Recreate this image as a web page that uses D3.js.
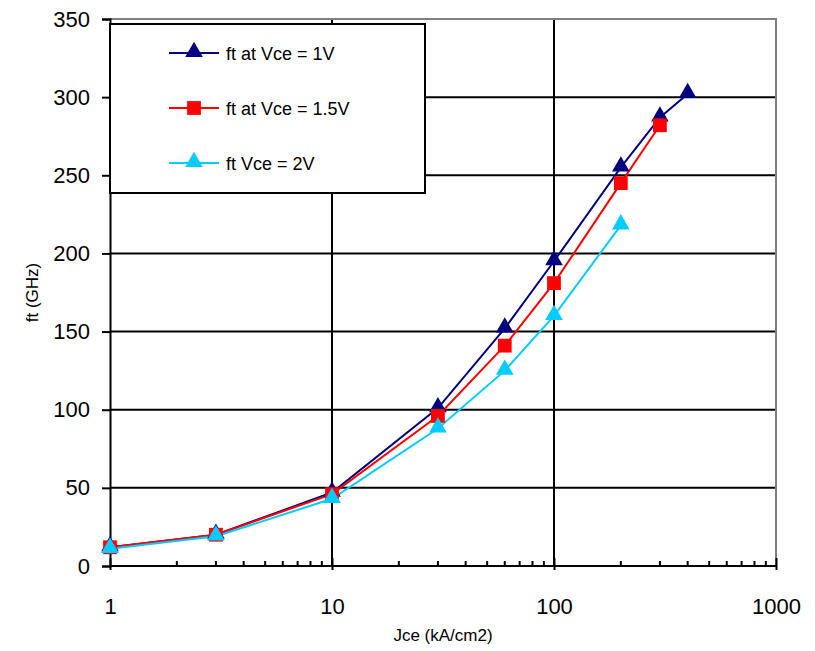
<!DOCTYPE html>
<meta charset="utf-8" />
<body style="margin:0;background:#fff">
  <script src="https://d3js.org/d3.v7.min.js"></script>
  <script>
    // data
    const jce = [1, 3, 10, 30, 60, 100, 200, 300, 400];
    const ftVce1 = [12, 20, 47, 101, 152, 195, 255, 287, 302];
    const ftVce15 = [12, 20, 46, 96, 141, 181, 245, 282];
    const ftVce2 = [11, 19, 43, 88, 125, 160, 218];
    const seriesNames = ["ft at Vce = 1V", "ft at Vce = 1.5V", "ft Vce = 2V"];
    const yTicks = [0, 50, 100, 150, 200, 250, 300, 350];
    const xTicks = [1, 10, 100, 1000];

    const series = [
      { name: seriesNames[0], values: ftVce1, color: "#000080", shape: "tri" },
      { name: seriesNames[1], values: ftVce15, color: "#ff0000", shape: "sq" },
      { name: seriesNames[2], values: ftVce2, color: "#00ccff", shape: "tri" }
    ];

    const margin = { top: 19, right: 39, bottom: 85, left: 110 },
      width = 815 - margin.left - margin.right,
      height = 651 - margin.top - margin.bottom;

    const svg = d3.select("body").append("svg")
      .attr("width", 815).attr("height", 651)
      .style("font-family", "Arial, 'Liberation Sans', sans-serif");

    const g = svg.append("g")
      .attr("transform", "translate(" + margin.left + "," + margin.top + ")");

    const x = d3.scaleLog().domain([1, 1000]).range([0, width]);
    const y = d3.scaleLinear().domain([0, 350]).range([height, 0]);

    // gridlines
    g.append("g").selectAll("line").data(yTicks.slice(1, -1)).join("line")
      .attr("x1", 0).attr("x2", width)
      .attr("y1", d => y(d)).attr("y2", d => y(d))
      .attr("stroke", "#000").attr("stroke-width", 2);
    g.append("g").selectAll("line").data(xTicks.slice(1, -1)).join("line")
      .attr("y1", 0).attr("y2", height)
      .attr("x1", d => x(d)).attr("x2", d => x(d))
      .attr("stroke", "#000").attr("stroke-width", 2);

    // plot frame top / right (grey)
    g.append("path")
      .attr("d", "M0," + y(350) + "H" + x(1000) + "V" + y(0))
      .attr("fill", "none").attr("stroke", "#808080").attr("stroke-width", 2);

    // y axis
    const yAxis = g.append("g")
      .call(d3.axisLeft(y).tickValues(yTicks).tickSize(8).tickPadding(12).tickFormat(d3.format("d")));
    yAxis.select(".domain").attr("stroke-width", 2);
    yAxis.selectAll(".tick line").attr("stroke-width", 2);
    yAxis.selectAll("text").attr("font-size", 22).attr("font-family", null).attr("fill", "#000");

    // x axis: minor ticks pointing up, major ticks crossing
    const minor = [];
    for (let dec = 1; dec < 1000; dec *= 10)
      for (let k = 2; k <= 9; k++) minor.push(dec * k);
    g.append("g").selectAll("line").data(minor).join("line")
      .attr("x1", d => x(d)).attr("x2", d => x(d))
      .attr("y1", height - 5).attr("y2", height)
      .attr("stroke", "#000").attr("stroke-width", 2);

    const xAxis = g.append("g")
      .attr("transform", "translate(0," + height + ")")
      .call(d3.axisBottom(x).tickValues(xTicks).tickSize(4).tickPadding(28).tickFormat(d3.format("d")));
    xAxis.select(".domain").attr("stroke-width", 2).attr("d", "M0,0H" + width);
    xAxis.selectAll(".tick line").attr("stroke-width", 2).attr("y1", -8);
    xAxis.selectAll("text").attr("font-size", 22).attr("font-family", null).attr("fill", "#000");

    // axis titles
    svg.append("text")
      .attr("transform", "translate(38," + (margin.top + height / 2) + ") rotate(-90)")
      .attr("text-anchor", "middle").attr("font-size", 17).text("ft (GHz)");
    svg.append("text")
      .attr("x", 443).attr("y", 641)
      .attr("text-anchor", "middle").attr("font-size", 17).text("Jce (kA/cm2)");

    const tri = d3.symbol().type(d3.symbolTriangle).size(135);
    const sq = d3.symbol().type(d3.symbolSquare).size(190);

    function marker(sel, s) {
      if (s.shape === "tri") sel.attr("d", tri).attr("transform", (p) => "translate(" + p[0] + "," + (p[1] - 1) + ")");
      else sel.attr("d", sq).attr("transform", (p) => "translate(" + p[0] + "," + p[1] + ")");
      sel.attr("fill", s.color);
    }

    const line = d3.line().x(d => x(d[0])).y(d => y(d[1]));

    series.forEach(s => {
      const pts = s.values.map((v, i) => [jce[i], v]);
      g.append("path").datum(pts)
        .attr("d", line).attr("fill", "none")
        .attr("stroke", s.color).attr("stroke-width", 2);
    });
    series.forEach(s => {
      const pts = s.values.map((v, i) => [x(jce[i]), y(v)]);
      g.append("g").selectAll("path").data(pts).join("path").call(marker, s);
    });

    // legend
    const lg = svg.append("g");
    lg.append("rect")
      .attr("x", 110).attr("y", 24).attr("width", 315).attr("height", 169)
      .attr("fill", "#fff").attr("stroke", "#000").attr("stroke-width", 2);
    series.forEach((s, i) => {
      const cy = 53 + i * 55;
      lg.append("line")
        .attr("x1", 169).attr("x2", 219).attr("y1", cy).attr("y2", cy)
        .attr("stroke", s.color).attr("stroke-width", 2);
      lg.append("path").datum([194, cy]).call(marker, s);
      lg.append("text")
        .attr("x", 226).attr("y", cy + 7)
        .attr("font-size", 18).text(s.name);
    });
  </script>
</body>
